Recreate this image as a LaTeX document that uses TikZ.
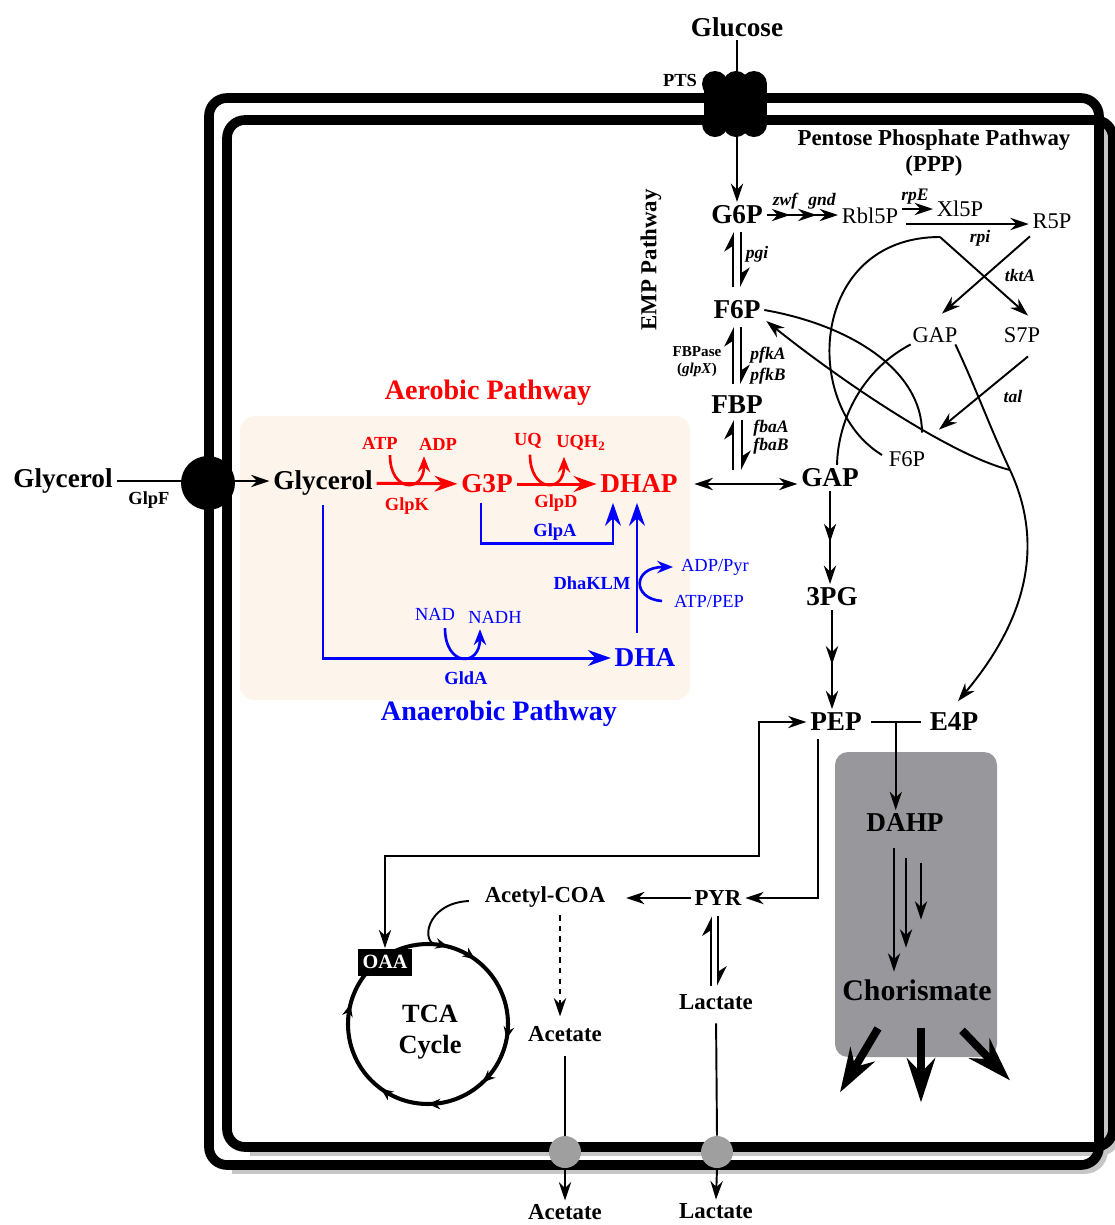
\documentclass[tikz,border=0pt]{standalone}
\usepackage{fontspec}
\setmainfont{Liberation Serif}
\usetikzlibrary{arrows.meta,calc,decorations.markings}
\definecolor{aered}{HTML}{FF0000}
\definecolor{anblue}{HTML}{0000FF}
\definecolor{aebox}{HTML}{FDF4EC}
\definecolor{chorgray}{HTML}{98989C}
\definecolor{shadegray}{HTML}{C6C6C6}

\begin{document}
\begin{tikzpicture}[
    x=0.02cm, y=0.02cm, >={Stealth[length=10.5pt,width=7pt]},
    met/.style={font=\bfseries\fontsize{15.5}{18}\selectfont, inner sep=2pt},
    pmet/.style={font=\fontsize{12.8}{15}\selectfont, inner sep=2pt},
    smet/.style={font=\bfseries\fontsize{13}{15}\selectfont, inner sep=2pt},
    enz/.style={font=\bfseries\itshape\fontsize{10}{12}\selectfont, inner sep=1pt},
    lab/.style={font=\bfseries\fontsize{10.5}{12}\selectfont, inner sep=1pt},
    cof/.style={font=\fontsize{10.5}{12}\selectfont, inner sep=1pt},
    pathtitle/.style={font=\bfseries\fontsize{16}{19}\selectfont},
    flux/.style={line width=1.1pt, ->},
    rev/.style={line width=1.1pt, -{Stealth[harpoon,length=10pt,width=10pt]}},
    rflux/.style={line width=1.7pt, aered, -{Stealth[length=13pt,width=9pt]}},
    bflux/.style={line width=1.7pt, anblue, -{Stealth[length=13pt,width=9pt]}},
    cofarc/.style={line width=1.5pt, -{Stealth[length=9pt,width=7pt]}},
    bigflux/.style={line width=4.5pt, -{Stealth[length=25pt,width=16pt]}},
    membrane/.style={line width=5.5pt, rounded corners=0.36cm},
    porter/.style={circle, fill=gray!75, minimum size=0.64cm, inner sep=0pt},
    headmid/.style={postaction={decorate, decoration={markings,
        mark=at position #1 with {\arrow{Stealth[length=10.5pt,width=7pt]}}}}},
    tcaring/.style={line width=2.3pt, postaction={decorate, decoration={markings,
        mark=at position 0.04 with {\arrow{Stealth[length=7pt,width=6pt]}},
        mark=at position 0.10 with {\arrow{Stealth[length=7pt,width=6pt]}},
        mark=at position 0.28 with {\arrow{Stealth[length=7pt,width=6pt]}},
        mark=at position 0.38 with {\arrow{Stealth[length=7pt,width=6pt]}},
        mark=at position 0.50 with {\arrow{Stealth[length=7pt,width=6pt]}},
        mark=at position 0.60 with {\arrow{Stealth[length=7pt,width=6pt]}},
        mark=at position 0.79 with {\arrow{Stealth[length=7pt,width=6pt]}}}}}
]
    \useasboundingbox (0,0) rectangle (1115,-1225);

    % Membranes
    \draw[membrane, shadegray] (232,-1169) -- (1103,-1169) -- (1103,-125);
    \draw[membrane, shadegray] (250,-1151) -- (1117,-1151) -- (1117,-145);
    \draw[membrane] (209,-98) rectangle (1099,-1165);
    \draw[membrane] (227,-120) rectangle (1113,-1147);

    % Pathway boxes
    \fill[aebox, rounded corners=0.28cm] (240,-416) rectangle (690,-700);
    \fill[chorgray, rounded corners=0.26cm] (835,-752) rectangle (997,-1057);

    % Transporters
    \fill (704,-84) rectangle (767,-124);
    \foreach \bx in {715,736,754}{
        \fill (\bx,-84) circle[radius=13];
        \fill (\bx,-124) circle[radius=13];
    }
    \node[circle, fill=black, minimum size=1.08cm, inner sep=0pt] (glpf) at (208,-483) {};
    \node[porter] (acex) at (565,-1152) {};
    \node[porter] (lacx) at (717,-1152) {};

    % Titles
    \node[met] (glc) at (737,-27) {Glucose};
    \node[lab] (ptslab) at (680,-80) {PTS};
    \node[met] (glyout) at (63,-481) {Glycerol};
    \node[lab] (glpflab) at (149,-500) {GlpF};
    \node[font=\bfseries\fontsize{13}{15.3}\selectfont, align=center] (ppp) at (934,-153) {Pentose Phosphate Pathway\\(PPP)};
    \node[font=\bfseries\fontsize{13}{15}\selectfont, rotate=90] (emp) at (651,-260) {EMP Pathway};
    \node[pathtitle, text=aered] (aerot) at (488,-393) {Aerobic Pathway};
    \node[pathtitle, text=anblue] (anaerot) at (499,-714) {Anaerobic Pathway};

    % EMP pathway
    \node[met] (gsix) at (737,-215) {G6P};
    \node[met] (fsix) at (737,-310) {F6P};
    \node[met] (fbp) at (737,-405) {FBP};
    \node[met] (gap) at (830,-478) {GAP};
    \node[met] (tpg) at (832,-597) {3PG};
    \node[met] (pep) at (836,-722) {PEP};
    \node[met] (efp) at (954,-722) {E4P};
    \coordinate (tri) at (737,-480);
    \node[enz] (pgi) at (757,-254) {pgi};
    \node[font=\bfseries\fontsize{8.6}{10}\selectfont, inner sep=1pt] (fbpase) at (697,-352) {FBPase};
    \node[font=\bfseries\fontsize{8.6}{10}\selectfont, inner sep=1pt] (glpx) at (697,-370) {(\textit{glpX})};
    \node[enz] (pfka) at (768,-355) {pfkA};
    \node[enz] (pfkb) at (768,-376) {pfkB};
    \node[enz] (fbaa) at (771,-428) {fbaA};
    \node[enz] (fbab) at (771,-446) {fbaB};

    % Pentose phosphate pathway
    \node[pmet] (rbl) at (870,-216) {Rbl5P};
    \node[pmet] (xlp) at (960,-209) {Xl5P};
    \node[pmet] (rfp) at (1052,-221) {R5P};
    \node[pmet] (gaps) at (935,-335) {GAP};
    \node[pmet] (ssp) at (1022,-335) {S7P};
    \node[pmet] (fsixb) at (907,-459) {F6P};
    \node[enz] (zwf) at (785,-201) {zwf};
    \node[enz] (gnd) at (822,-201) {gnd};
    \node[enz] (rpe) at (915,-197) {rpE};
    \node[enz] (rpi) at (980,-238) {rpi};
    \node[enz] (tkta) at (1020,-275) {tktA};
    \node[enz] (tal) at (1013,-396) {tal};
    \coordinate (spl) at (940,-237);
    \coordinate (jn) at (1010,-470);

    % Glycerol pathways
    \node[met] (glyin) at (323,-483) {Glycerol};
    \node[met, text=aered] (gthree) at (487,-484) {G3P};
    \node[met, text=aered] (dhap) at (639,-484) {DHAP};
    \node[met, text=anblue] (dha) at (645,-658) {DHA};
    \node[lab, text=aered] (atp) at (380,-443) {ATP};
    \node[lab, text=aered] (adp) at (438,-444) {ADP};
    \node[lab, text=aered] (glpk) at (407,-506) {GlpK};
    \node[lab, text=aered] (uq) at (528,-441) {UQ};
    \node[lab, text=aered] (uqh) at (581,-443) {UQH\textsubscript{2}};
    \node[lab, text=aered] (glpd) at (556,-503) {GlpD};
    \node[lab, text=anblue] (glpa) at (555,-532) {GlpA};
    \node[lab, text=anblue] (dhaklm) at (592,-583) {DhaKLM};
    \node[cof, text=anblue] (adppyr) at (715,-567) {ADP/Pyr};
    \node[cof, text=anblue] (atppep) at (709,-601) {ATP/PEP};
    \node[cof, text=anblue] (nad) at (435,-614) {NAD};
    \node[cof, text=anblue] (nadh) at (495,-617) {NADH};
    \node[lab, text=anblue] (glda) at (466,-678) {GldA};

    % Shikimate branch and fermentation
    \node[met] (dahp) at (905,-823) {DAHP};
    \node[met, font=\bfseries\fontsize{17}{20}\selectfont] (chor) at (917,-990) {Chorismate};
    \node[smet] (pyr) at (718,-898) {PYR};
    \node[smet] (accoa) at (545,-897) {Acetyl-COA};
    \node[smet] (ace) at (565,-1034) {Acetate};
    \node[smet] (lac) at (716,-1002) {Lactate};
    \node[smet] (aceout) at (565,-1212) {Acetate};
    \node[smet] (lacout) at (716,-1211) {Lactate};
    \coordinate (tcac) at (428,-1024);
    \draw[tcaring] ($(tcac)+(0,80)$) arc[start angle=90, end angle=-270, radius=80];
    \node[font=\bfseries\fontsize{15}{17.6}\selectfont, align=center] (tca) at (430,-1032) {TCA\\Cycle};
    \node[fill=black, text=white, font=\bfseries\fontsize{11.5}{13}\selectfont, inner sep=2.5pt, minimum width=1.1cm, minimum height=0.54cm] (oaa) at (385,-962) {OAA};

    % EMP fluxes
    \draw[flux] (glc) -- (gsix);
    \draw[rev] ($(fsix.north)+(-4,10)$) -- ($(gsix.south)+(-4,-4)$);
    \draw[rev] ($(gsix.south)+(4,-4)$) -- ($(fsix.north)+(4,10)$);
    \draw[rev] ($(fbp.north)+(-4,8)$) -- ($(fsix.south)+(-4,-4)$);
    \draw[rev] ($(fsix.south)+(4,-4)$) -- ($(fbp.north)+(4,8)$);
    \draw[rev] ($(tri)+(-4,10)$) -- ($(fbp.south)+(-4,-2)$);
    \draw[rev] ($(fbp.south)+(5,-2)$) -- ($(tri)+(5,10)$);
    \draw[flux, <->, shorten <=0.26cm] (dhap.east) -- (dhap.east -| gap.west);
    \draw[flux, headmid=0.55] (gap.south) -- (gap.south |- tpg.north);
    \draw[flux, headmid=0.55] (tpg.south) -- (tpg.south |- pep.north);

    % PPP fluxes
    \draw[flux, headmid=0.33, headmid=0.7] (gsix.east) -- (gsix.east -| rbl.west);
    \draw[flux] (rbl.east |- xlp.west) -- (xlp.west);
    \draw[flux] ($(rbl.east)+(4,-8)$) -- ($(rfp.west)+(0,-3)$);
    \draw[flux] ($(rfp.south)+(-22,-4)$) -- ($(gaps.north)+(7,10)$);
    \draw[flux] (spl) -- ($(ssp.north)+(6,8)$);
    \draw[line width=1.1pt] (spl) .. controls (810,-237) and (800,-405) .. ($(fsixb.west)+(-3,4)$);
    \draw[line width=1.1pt] (fsix.east) .. controls (850,-325) and (922,-370) .. ($(fsixb.north)+(15,15)$);
    \draw[flux] (jn) .. controls (950,-455) and (840,-380) .. ($(fsix.south east)+(2,2)$);
    \draw[line width=1.1pt] ($(gaps.south west)+(2,2)$) .. controls (862,-370) and (838,-420) .. ($(gap.north)+(7,0)$);
    \draw[flux] ($(gaps.south east)+(-6,2)$) to[out=-65,in=115] (jn) to[out=-65,in=50] ($(efp.north)+(4,8)$);
    \draw[flux] ($(ssp.south)+(6,-10)$) -- ($(fsixb.north east)+(10,18)$);

    % Glycerol fluxes
    \draw[flux] (glyout.east) -- (glyout.east -| glyin.west);
    \draw[rflux] (glyin) -- (gthree);
    \draw[rflux] (gthree) -- (dhap);
    \draw[cofarc, aered] ($(atp.south)+(10,-4)$) to[out=-90,in=-90,looseness=2.8] ($(adp.south)+(-14,-4)$);
    \draw[cofarc, aered] ($(uq.south)+(2,-4)$) to[out=-90,in=-90,looseness=2.8] ($(uqh.south)+(-17,-4)$);
    \draw[bflux] ($(gthree.south)+(-6,-6)$) -- ++(0,-40) -| ($(dhap.south)+(-26,-6)$);
    \draw[bflux] ($(dha.north)+(-8,12)$) -- ($(dhap.south)+(-2,-6)$);
    \draw[bflux] ($(glyin.south)+(0,-6)$) |- (dha.west);
    \draw[cofarc, anblue] ($(nad.south)+(10,-6)$) to[out=-90,in=-90,looseness=2.8] ($(nadh.south)+(-15,-4)$);
    \draw[cofarc, anblue] ($(atppep.west)+(-10,0)$) .. controls (632,-599) and (632,-567) .. ($(adppyr.west)+(-6,0)$);

    % PEP node fluxes
    \coordinate (br) at ($(pep.east)!0.5!(efp.west)$);
    \draw[line width=1.1pt, shorten <=0.1cm, shorten >=0.1cm] (pep.east) -- (efp.west);
    \draw[flux] (br) -- (br |- dahp.north);
    \draw[flux] ($(dahp.south)+(-11,-12)$) -- ($(chor.north)+(-23,4)$);
    \draw[flux] ($(dahp.south)+(1,-22)$) -- ($(chor.north)+(-11,28)$);
    \draw[flux] ($(dahp.south)+(16,-27)$) -- ($(chor.north)+(4,56)$);
    \draw[bigflux] ($(chor.south)+(-39,-24)$) -- ++(-38,-64);
    \draw[bigflux] ($(chor.south)+(4,-24)$) -- ++(0,-74);
    \draw[bigflux] ($(chor.south)+(45,-26)$) -- ++(48,-50);
    \draw[flux, <->] (oaa.north) |- ($(pep.west)+(-47,-134)$) |- (pep.west);
    \draw[flux] ($(pep.south)+(-18,-4)$) |- (pyr.east);
    \draw[flux, shorten >=0.34cm] (pyr.west) -- (pyr.west -| accoa.east);
    \draw[flux, dashed] ($(accoa.south)+(15,-4)$) -- ($(ace.north)+(-5,6)$);
    \draw[line width=1.1pt] ($(accoa.west)+(-12,-4)$) .. controls (425,-903) and (420,-945) .. ($(tcac)+(10,79)$);
    \draw[rev] ($(lac.north)+(-5,5)$) -- ($(pyr.south)+(-7,-7)$);
    \draw[rev] ($(pyr.south)+(0,-7)$) -- ($(lac.north)+(2,5)$);

    % Export
    \draw[line width=1.1pt, shorten <=0.2cm] (ace.south) -- (acex.north);
    \draw[flux] (acex.south) -- (aceout.north);
    \draw[line width=1.1pt, shorten <=0.2cm] (lac.south) -- (lacx.north);
    \draw[flux] (lacx.south) -- (lacout.north);

\end{tikzpicture}
\end{document}
